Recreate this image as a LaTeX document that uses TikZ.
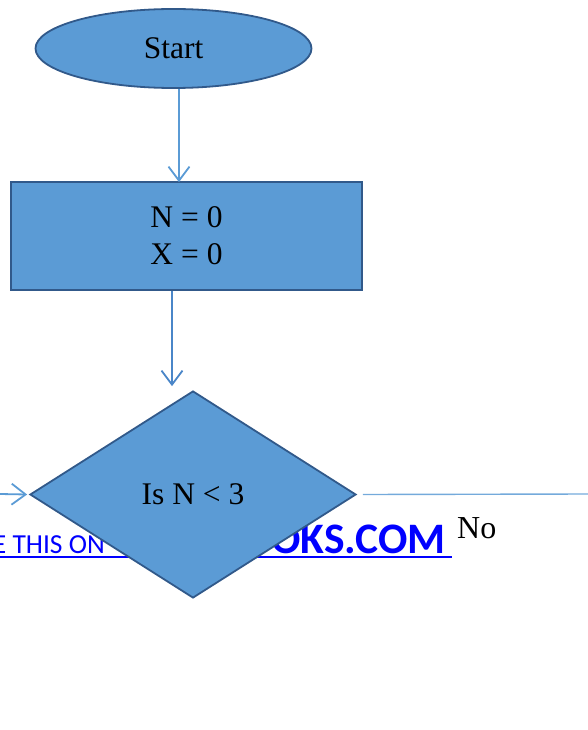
\documentclass[tikz,border=0pt]{standalone}
\usepackage{fontspec}
\setmainfont{Liberation Serif}
\newfontfamily\wmfont{Carlito}
\usetikzlibrary{shapes.geometric,arrows.meta}
\definecolor{boxfill}{HTML}{5B9BD5}
\definecolor{boxedge}{HTML}{31598A}
\definecolor{linkblue}{HTML}{0000FF}
\definecolor{lineblue}{HTML}{5B9BD5}
\definecolor{linedark}{HTML}{4A86C8}
\tikzset{
  shapebox/.style={draw=boxedge, fill=boxfill, line width=1.8pt, inner sep=0pt, text=black,
    font=\fontsize{31.5}{37}\selectfont, align=center},
  conn/.style={draw=lineblue, line width=1.8pt,
    -{Straight Barb[length=14pt,width=21pt,line width=1.8pt]}},
  plainline/.style={draw=lineblue!85, line width=1.4pt},
  wmsmall/.style={text=linkblue, inner sep=0pt, font=\wmfont\fontsize{27.5}{27.5}\selectfont},
  wmbig/.style={text=linkblue, inner sep=0pt, font=\wmfont\bfseries\fontsize{43.5}{43.5}\selectfont},
}
\begin{document}
\begin{tikzpicture}[x=1pt,y=-1pt]
\useasboundingbox (0,0) rectangle (588,730);
% watermark behind the diamond
\node[wmsmall, anchor=base east] (wm1) at (105,553) {E THIS ON};
\node[wmbig, anchor=base east] (wm2) at (446,553) {OOKS.COM};
\coordinate (ulL) at (-5,557);
\coordinate (ulR) at (452,557);
\draw[linkblue, line width=2.6pt] (ulL) -- (ulR);
% shapes
\node[shapebox, ellipse, minimum width=276pt, minimum height=79pt] (start) at (173.5,48.5) {Start};
\node[shapebox, rectangle, minimum width=351pt, minimum height=108pt] (init) at (186.5,236) {N = 0\\X = 0};
\node[shapebox, diamond, minimum width=326pt, minimum height=207pt] (cond) at (193,494.5) {Is N < 3};
% connectors
\draw[conn] ([xshift=5.5pt]start.south) -- ([xshift=-7.5pt,yshift=-1pt]init.north);
\draw[conn, draw=linedark] ([xshift=-14.5pt]init.south) -- ([xshift=-21pt,yshift=4pt]cond.north);
\coordinate (inL) at (0,494);
\draw[conn] (inL) -- ([xshift=-2pt]cond.west);
\coordinate (outR) at (588,494);
\draw[plainline] ([xshift=6pt]cond.east) -- (outR);
\node[inner sep=0pt, anchor=base west, font=\fontsize{32}{32}\selectfont] (no) at (457,538) {No};
\end{tikzpicture}
\end{document}
